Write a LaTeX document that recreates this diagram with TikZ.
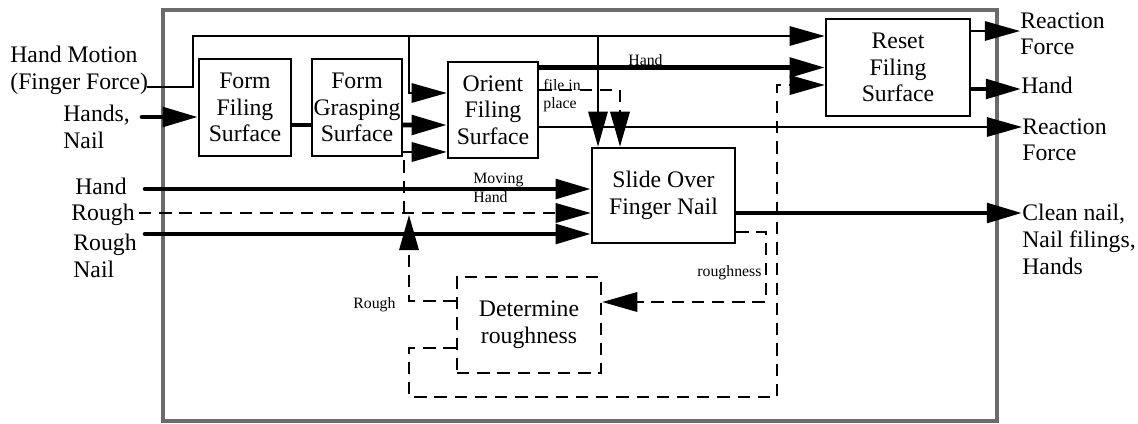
\documentclass[tikz,border=0pt]{standalone}
\usepackage{fontspec}
\setmainfont{Liberation Serif}
\usetikzlibrary{arrows.meta}

\tikzset{
  big/.style={font=\fontsize{13.5}{15.2}\selectfont},
  small/.style={font=\fontsize{9}{10.5}\selectfont},
  func/.style={draw, line width=1.4pt, align=center, inner sep=0pt, big},
  dfunc/.style={func, dash pattern=on 7pt off 4.5pt},
  lbl/.style={inner sep=0pt, align=left, big},
  slbl/.style={inner sep=0pt, align=left, small},
  thinflow/.style={line width=1.1pt},
  thickflow/.style={line width=2.6pt, line cap=round},
  dashflow/.style={line width=1.4pt, dash pattern=on 7pt off 4.5pt},
  >={Triangle[length=20pt,width=11pt]},
}

\begin{document}
\begin{tikzpicture}[x={(0.02cm,0)}, y={(0,-0.02cm)}]
  \useasboundingbox (0,0) rectangle (1138,423);
  % system boundary
  \draw[line width=2.3pt, draw=black!58] (163,10) rectangle (997,421);

  % functions
  \node[func, minimum width=1.84cm, minimum height=1.94cm] (ffs) at (245,107.5) {Form\\Filing\\Surface};
  \node[func, minimum width=1.80cm, minimum height=1.94cm] (fgs) at (357,107.5) {Form\\Grasping\\Surface};
  \node[func, minimum width=1.80cm, minimum height=1.92cm] (ofs) at (493,110) {Orient\\Filing\\Surface};
  \node[func, minimum width=2.88cm, minimum height=1.94cm] (rfs) at (898,67.5) {Reset\\Filing\\Surface};
  \node[func, minimum width=2.86cm, minimum height=1.90cm] (sfn) at (663.5,195.5) {Slide Over\\Finger Nail};
  \node[dfunc, minimum width=2.88cm, minimum height=1.92cm] (drn) at (529,325) {Determine\\roughness};

  % outside labels
  \node[lbl, anchor=north west] (hmL) at (10,46) {Hand Motion\\(Finger Force)};
  \node[lbl, anchor=north west] (hnL) at (63,105) {Hands,\\Nail};
  \node[lbl, anchor=base east] (hdL) at (127,194) {Hand};
  \node[lbl, anchor=base east] (rgL) at (135,220) {Rough};
  \node[lbl, anchor=north west] (rnL) at (73,234) {Rough\\Nail};
  \node[lbl, anchor=north west] (rf1L) at (1020,12) {Reaction\\Force};
  \node[lbl, anchor=base west] (hoL) at (1021,93) {Hand};
  \node[lbl, anchor=north west] (rf2L) at (1022,118) {Reaction\\Force};
  \node[lbl, anchor=north west] (cnL) at (1022,204) {Clean nail,\\Nail filings,\\Hands};

  % inside labels
  \node[slbl, anchor=north west] (hsL) at (628,54) {Hand};
  \node[slbl, anchor=north west] (fpL) at (543,79) {file in\\place};
  \node[slbl, anchor=north west] (mhL) at (473,173) {Moving\\Hand};
  \node[slbl, anchor=north west] (rsL) at (353,297) {Rough};
  \node[slbl, anchor=north west] (rnsL) at (697,265) {roughness};

  % hand motion
  \coordinate (hmOut) at (147,87);
  \coordinate (topL) at (193,36);
  \coordinate (brA) at (409,36);
  \coordinate (brB) at (598,36);
  \draw[thinflow, ->] (hmOut) -| (topL) -- (topL -| rfs.west);
  \draw[thinflow, ->] (brA) |- ([yshift=0.34cm]ofs.west);
  \draw[thinflow, ->] (brB) -- (brB |- sfn.north);

  % filing surface chain
  \coordinate (hnIn) at (142,117);
  \draw[thickflow, ->] (hnIn) -- (hnIn -| ffs.west);
  \draw[thickflow] ([yshift=-0.35cm]ffs.east) -- ([yshift=-0.35cm]fgs.west);
  \draw[thickflow, ->] ([yshift=-0.35cm]fgs.east) -- ([yshift=-0.3cm]ofs.west);
  \draw[thickflow, ->] (ofs.east |- rfs.west) -- (rfs.west);
  \coordinate (fileX) at (620,90);
  \draw[dashflow, ->] (ofs.east |- fileX) -| (fileX |- sfn.north);
  \coordinate (rf2In) at ([yshift=-0.34cm]ofs.east);
  \draw[thinflow, ->] (rf2In) -- (rf2In -| rf2L.west);

  % reset outputs
  \coordinate (rf1Out) at ([yshift=0.73cm]rfs.east);
  \draw[thinflow, ->] (rf1Out) -- (rf1Out -| rf1L.west);
  \coordinate (hOut) at ([yshift=-0.43cm]rfs.east);
  \draw[thickflow, ->] (hOut) -- (hOut -| hoL.west);

  % left inputs to slide
  \coordinate (hdIn) at (145,189);
  \coordinate (rgIn) at (139,213);
  \coordinate (rnIn) at (145,234);
  \draw[thickflow, ->] (hdIn) -- (hdIn -| sfn.west);
  \draw[dashflow, ->] (rgIn) -- (rgIn -| sfn.west);
  \draw[thickflow, ->] (rnIn) -- (rnIn -| sfn.west);
  \coordinate (jR) at (404,213);
  \draw[dashflow, ->] (jR) |- ([yshift=-0.84cm]ofs.west);
  \draw[thickflow, ->] (sfn.east |- rgIn) -- (rgIn -| cnL.west);

  % roughness loop
  \coordinate (rnsC) at (766,302);
  \draw[dashflow, ->] ([yshift=-0.73cm]sfn.east) -| (rnsC) -- (rnsC -| drn.east);
  \coordinate (upTip) at (409,215);
  \draw[dashflow, ->] ([yshift=0.48cm]drn.west) -| (upTip);
  \coordinate (botL) at (409,397);
  \coordinate (botR) at (777,397);
  \draw[dashflow, ->] ([yshift=-0.46cm]drn.west) -| (botL) -- (botR) |- ([yshift=-0.35cm]rfs.west);
\end{tikzpicture}
\end{document}
